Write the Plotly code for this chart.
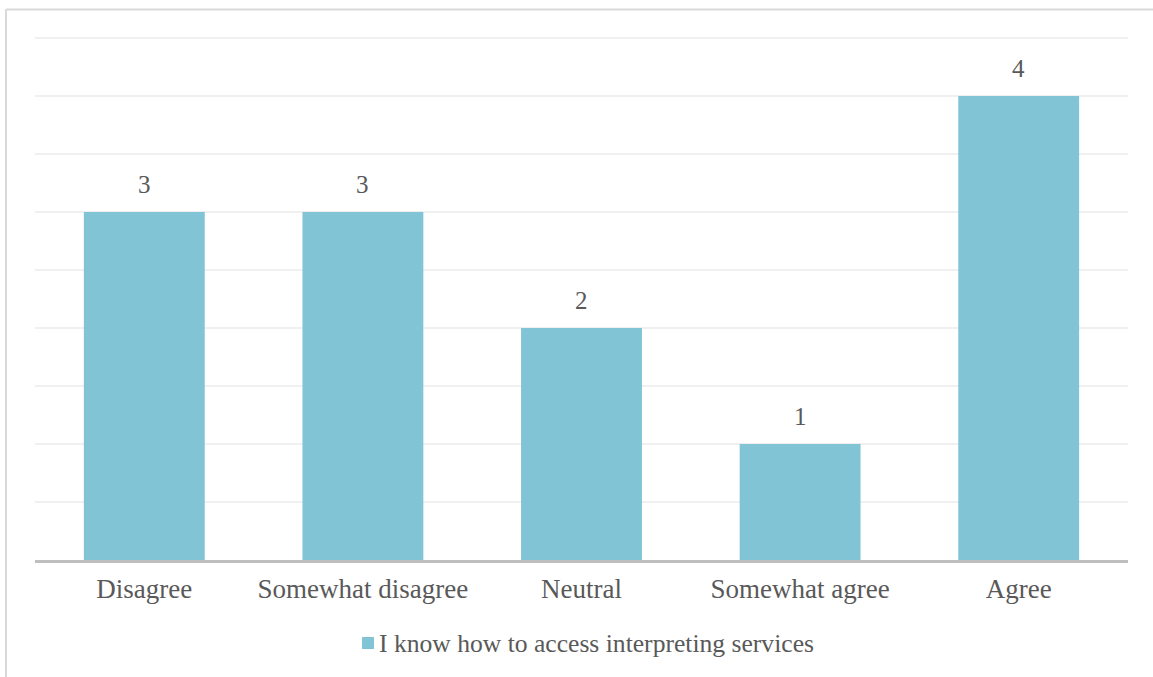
import plotly.graph_objects as go

# Survey responses for a single Likert statement
categories = ["Disagree", "Somewhat disagree", "Neutral", "Somewhat agree", "Agree"]
counts = [3, 3, 2, 1, 4]
series_name = "I know how to access interpreting services"

BAR_COLOR = "#80C4D6"
TEXT_COLOR = "#595959"
FONT = "Liberation Serif"

W, H = 1153, 677
M_L, M_R, M_T, M_B = 35, 25, 32, 117
plot_w = W - M_L - M_R
plot_h = H - M_T - M_B
Y_MAX = 4.552


def px_x(p):
    return (p - M_L) / plot_w


def px_y(p):
    return (H - M_B - p) / plot_h


fig = go.Figure()
fig.add_trace(go.Bar(
    x=categories,
    y=counts,
    name=series_name,
    marker=dict(color=BAR_COLOR, line=dict(width=0)),
    showlegend=False,
    hoverinfo="x+y",
))

# value labels above each bar
for c, v in zip(categories, counts):
    fig.add_annotation(
        x=c, y=v, text=str(v), showarrow=False,
        xref="x", yref="y", yanchor="bottom", yshift=12,
        font=dict(family=FONT, size=25, color=TEXT_COLOR),
    )

# legend: colour key plus series name
fig.add_shape(type="rect", xref="paper", yref="paper",
              x0=px_x(362), x1=px_x(374), y0=px_y(649), y1=px_y(637),
              fillcolor=BAR_COLOR, line=dict(width=0))
fig.add_annotation(
    x=px_x(377), y=px_y(643), xref="paper", yref="paper",
    xanchor="left", yanchor="middle", showarrow=False,
    text=series_name,
    font=dict(family=FONT, size=25.6, color=TEXT_COLOR),
)

# outer chart frame (left and top edges)
frame = dict(color="#D9D9D9", width=2)
fig.add_shape(type="line", xref="paper", yref="paper",
              x0=px_x(6), x1=px_x(W + 5), y0=px_y(9.5), y1=px_y(9.5), line=frame)
fig.add_shape(type="line", xref="paper", yref="paper",
              x0=px_x(6), x1=px_x(6), y0=px_y(9.5), y1=px_y(H + 5), line=frame)

fig.update_layout(
    width=W, height=H,
    margin=dict(l=M_L, r=M_R, t=M_T, b=M_B, pad=0),
    paper_bgcolor="white", plot_bgcolor="white",
    bargap=0.447,
    showlegend=False,
    font=dict(family=FONT, size=27, color=TEXT_COLOR),
    xaxis=dict(
        showgrid=False, zeroline=False,
        showline=True, linecolor="#BFBFBF", linewidth=2.5,
        ticks="", ticklabelstandoff=3,
        tickfont=dict(family=FONT, size=27, color=TEXT_COLOR),
        fixedrange=True,
    ),
    yaxis=dict(
        range=[0, Y_MAX], dtick=0.5, showticklabels=False,
        showgrid=True, gridcolor="#F0F0F0", gridwidth=1.5,
        zeroline=False, showline=False, ticks="",
        fixedrange=True,
    ),
)

fig.write_html("out.html", config={"displayModeBar": False})
